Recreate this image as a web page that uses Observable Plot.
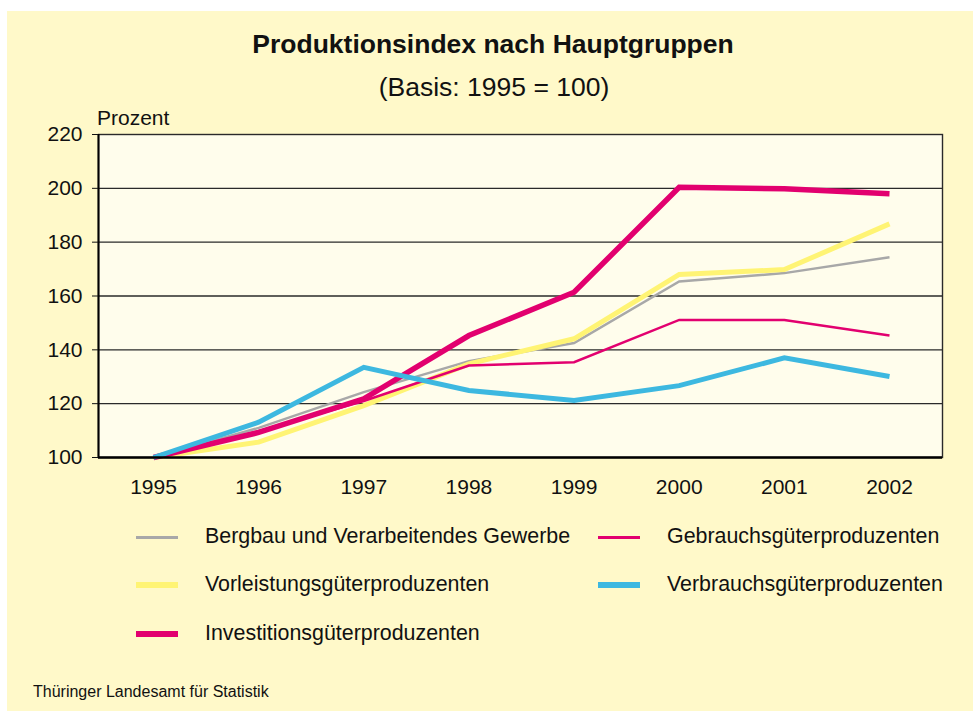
<!DOCTYPE html>
<html>
<head>
<meta charset="utf-8">
<script src="https://cdn.jsdelivr.net/npm/d3@7"></script>
<script src="https://cdn.jsdelivr.net/npm/@observablehq/plot@0.6"></script>
<style>
  html, body { margin: 0; padding: 0; background: #ffffff; }
  #page { position: relative; width: 973px; height: 711px; overflow: hidden; background: #ffffff;
          font-family: "Liberation Sans", Arial, sans-serif; color: #111; }
  #bg { position: absolute; left: 7px; top: 11px; right: 0; bottom: 0; background: #FFF9C9; }
  .t { position: absolute; white-space: nowrap; line-height: 1; }
  #chart { position: absolute; left: 0; top: 100px; }
  .sw { position: absolute; width: 42px; }
</style>
</head>
<body>
<div id="page">
  <div id="bg"></div>
  <div class="t" id="title" style="left:0;width:986px;text-align:center;top:31px;font-size:26.5px;font-weight:bold;">Produktionsindex nach Hauptgruppen</div>
  <div class="t" id="subtitle" style="left:0;width:988px;text-align:center;top:74px;font-size:26.5px;">(Basis: 1995 = 100)</div>
  <div class="t" style="left:97px;top:107px;font-size:21px;">Prozent</div>
  <div id="chart"></div>
  <div id="legend"></div>
  <div class="t" style="left:33px;top:684px;font-size:16px;">Thüringer Landesamt für Statistik</div>
</div>
<script>
const years = [1995, 1996, 1997, 1998, 1999, 2000, 2001, 2002];
const seriesNames = [
  "Bergbau und Verarbeitendes Gewerbe",
  "Gebrauchsgüterproduzenten",
  "Vorleistungsgüterproduzenten",
  "Verbrauchsgüterproduzenten",
  "Investitionsgüterproduzenten"
];
const bergbau      = [100, 111.0, 124.3, 135.8, 142.5, 165.4, 168.5, 174.4];
const gebrauch     = [100, 109.8, 121.0, 134.2, 135.4, 151.1, 151.1, 145.3];
const vorleistung  = [100, 105.7, 119.3, 134.8, 144.1, 168.0, 169.8, 186.8];
const verbrauch    = [100, 113.1, 133.5, 124.9, 121.2, 126.7, 137.0, 130.1];
const investition  = [100, 109.3, 121.8, 145.3, 161.4, 200.4, 199.8, 198.0];
const yTicks = [100, 120, 140, 160, 180, 200, 220];
const gridValues = [120, 140, 160, 180, 200];

const colors = {
  "Bergbau und Verarbeitendes Gewerbe": "#A8A8A8",
  "Gebrauchsgüterproduzenten": "#E2006F",
  "Vorleistungsgüterproduzenten": "#FFF474",
  "Verbrauchsgüterproduzenten": "#3DB8E0",
  "Investitionsgüterproduzenten": "#E2006F"
};
const widths = {
  "Bergbau und Verarbeitendes Gewerbe": 2.5,
  "Gebrauchsgüterproduzenten": 2.5,
  "Vorleistungsgüterproduzenten": 5,
  "Verbrauchsgüterproduzenten": 5,
  "Investitionsgüterproduzenten": 5.5
};
const valuesBySeries = {
  "Bergbau und Verarbeitendes Gewerbe": bergbau,
  "Gebrauchsgüterproduzenten": gebrauch,
  "Vorleistungsgüterproduzenten": vorleistung,
  "Verbrauchsgüterproduzenten": verbrauch,
  "Investitionsgüterproduzenten": investition
};
const drawOrder = [
  "Bergbau und Verarbeitendes Gewerbe",
  "Vorleistungsgüterproduzenten",
  "Gebrauchsgüterproduzenten",
  "Investitionsgüterproduzenten",
  "Verbrauchsgüterproduzenten"
];

const lineMarks = drawOrder.map(name => {
  const rows = years.map((y, i) => ({year: y, value: valuesBySeries[name][i]}));
  return Plot.line(rows, {
    x: "year", y: "value",
    stroke: colors[name], strokeWidth: widths[name],
    strokeLinejoin: "miter", strokeLinecap: "butt", strokeMiterlimit: 4
  });
});

const chart = Plot.plot({
  width: 973,
  height: 400,
  marginTop: 34,
  marginBottom: 43,
  marginLeft: 98,
  marginRight: 31,
  style: {background: "transparent", fontFamily: "'Liberation Sans', Arial, sans-serif", fontSize: "21px", color: "#111"},
  x: {domain: [1994.477, 2002.504], label: null},
  y: {domain: [100, 220], label: null},
  marks: [
    Plot.frame({fill: "#FFFDEC", stroke: "#2a2a2a", strokeWidth: 1.4}),
    Plot.ruleY(gridValues, {stroke: "#2a2a2a", strokeWidth: 1.4}),
    ...lineMarks,
    Plot.ruleY([100], {stroke: "#000", strokeWidth: 2.6}),
    Plot.ruleX([1994.477], {stroke: "#000", strokeWidth: 2}),
    Plot.axisY({ticks: yTicks, tickSize: 6, tickPadding: 10, tickFormat: d => String(d), fill: "#111", stroke: "#111", label: null}),
    Plot.axisX({ticks: years, tickSize: 0, tickPadding: 22, tickFormat: d => String(d), fill: "#111", label: null})
  ]
});
document.getElementById("chart").appendChild(chart);

// Legend
const legendItems = [
  {name: "Bergbau und Verarbeitendes Gewerbe", col: 0, row: 0},
  {name: "Gebrauchsgüterproduzenten", col: 1, row: 0},
  {name: "Vorleistungsgüterproduzenten", col: 0, row: 1},
  {name: "Verbrauchsgüterproduzenten", col: 1, row: 1},
  {name: "Investitionsgüterproduzenten", col: 0, row: 2}
];
const colSwatchX = [136, 598];
const colTextX = [205, 667];
const rowY = [537, 585, 634];
const legend = document.getElementById("legend");
legendItems.forEach(it => {
  const sw = document.createElement("div");
  sw.className = "sw";
  const w = widths[it.name] + 0.5;
  sw.style.left = colSwatchX[it.col] + "px";
  sw.style.top = (rowY[it.row] - w / 2) + "px";
  sw.style.height = w + "px";
  sw.style.background = colors[it.name];
  legend.appendChild(sw);
  const tx = document.createElement("div");
  tx.className = "t";
  tx.style.left = colTextX[it.col] + "px";
  tx.style.top = (rowY[it.row] - 11) + "px";
  tx.style.fontSize = "21.4px";
  tx.textContent = it.name;
  legend.appendChild(tx);
});
</script>
</body>
</html>
